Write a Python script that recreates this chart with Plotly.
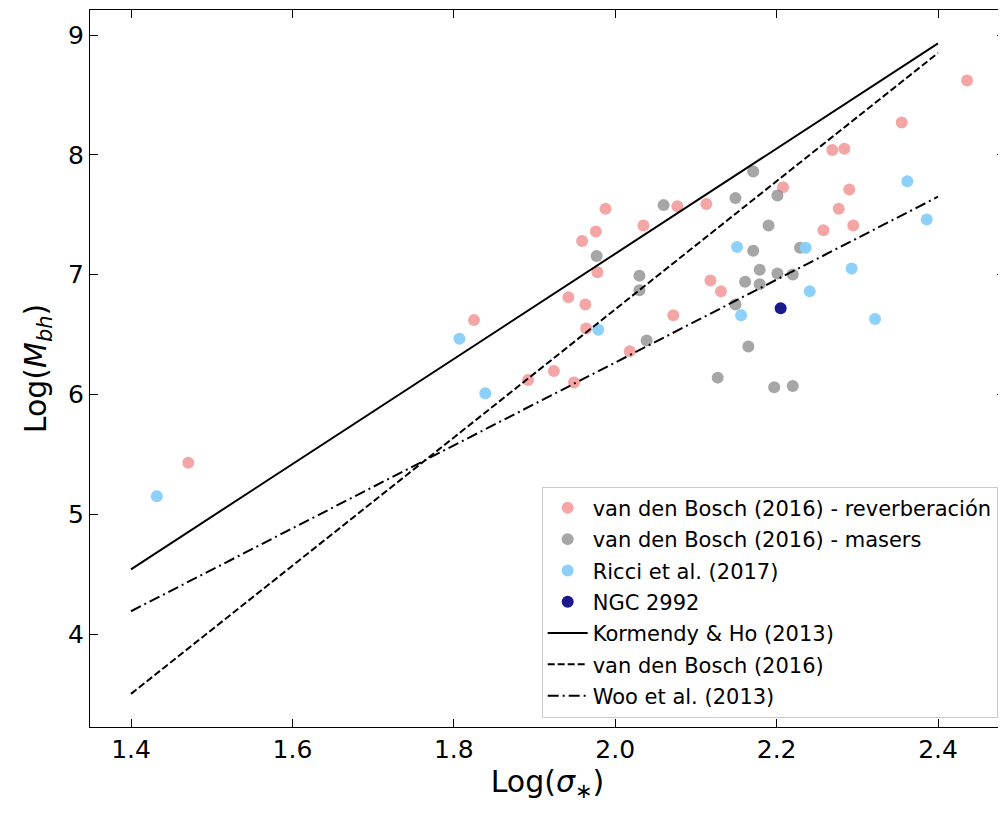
import plotly.graph_objects as go

# Reverberation (van den Bosch 2016)
rev_x = [1.471, 1.825, 1.892, 1.924, 1.949, 1.942, 1.963, 1.964, 1.959, 1.976,
         1.978, 1.988, 2.018, 2.035, 2.072, 2.077, 2.113, 2.118, 2.131, 2.208,
         2.258, 2.269, 2.277, 2.284, 2.290, 2.295, 2.355, 2.436]
rev_y = [5.43, 6.62, 6.12, 6.195, 6.10, 6.81, 6.75, 6.55, 7.28, 7.36,
         7.02, 7.55, 6.36, 7.41, 6.66, 7.57, 7.59, 6.95, 6.86, 7.73,
         7.37, 8.04, 7.55, 8.05, 7.71, 7.41, 8.27, 8.62]

# Masers (van den Bosch 2016)
mas_x = [1.977, 2.030, 2.030, 2.039, 2.060, 2.127, 2.149, 2.149, 2.161, 2.165,
         2.171, 2.171, 2.179, 2.179, 2.190, 2.197, 2.201, 2.201, 2.220, 2.220, 2.229]
mas_y = [7.155, 6.99, 6.87, 6.45, 7.58, 6.14, 7.64, 6.75, 6.94, 6.40,
         7.86, 7.20, 7.04, 6.92, 7.41, 6.06, 7.66, 7.01, 7.00, 6.07, 7.225]

# Ricci et al. (2017)
ric_x = [1.432, 1.807, 1.839, 1.979, 2.151, 2.156, 2.236, 2.241, 2.293, 2.322, 2.362, 2.386]
ric_y = [5.15, 6.465, 6.01, 6.54, 7.23, 6.66, 7.225, 6.86, 7.05, 6.63, 7.78, 7.46]

# NGC 2992
ngc_x = [2.205]
ngc_y = [6.72]

# Relations (endpoints)
rel_x = [1.4, 2.4]
kh_y = [4.54, 8.93]
vdb_y = [3.50, 8.85]
woo_y = [4.19, 7.65]

FONT = "DejaVu Sans"
fig = go.Figure()

def pts(x, y, name, color, op):
    fig.add_trace(go.Scatter(x=x, y=y, mode="markers", name=name, legendgroup=name,
                             marker=dict(size=12, color=color, opacity=op, line=dict(width=0))))

pts(rev_x, rev_y, "van den Bosch (2016) - reverberación", "#F08080", 0.7)
pts(mas_x, mas_y, "van den Bosch (2016) - masers", "#808080", 0.7)
pts(ric_x, ric_y, "Ricci et al. (2017)", "#87CEFA", 0.95)
pts(ngc_x, ngc_y, "NGC 2992", "#000080", 0.9)

def ln(y, name, dash):
    fig.add_trace(go.Scatter(x=rel_x, y=y, mode="lines", name=name, legendgroup=name,
                             line=dict(color="black", width=2, dash=dash)))

ln(kh_y, "Kormendy & Ho (2013)", "solid")
ln(vdb_y, "van den Bosch (2016)", "7px,3px")
ln(woo_y, "Woo et al. (2013)", "11px,4px,2px,4px")

axis_common = dict(showgrid=False, zeroline=False, showline=True, linecolor="black",
                   linewidth=1.2, mirror="ticks", ticks="inside", ticklen=8,
                   tickwidth=1.2, tickcolor="black",
                   tickfont=dict(family=FONT, size=25, color="black"))

fig.update_xaxes(range=[1.3492, 2.483], tickvals=[1.4, 1.6, 1.8, 2.0, 2.2, 2.4],
                 ticktext=["1.4", "1.6", "1.8", "2.0", "2.2", "2.4"],
                 title=dict(text="Log(<i>σ</i><sub>∗</sub>)", font=dict(family=FONT, size=30, color="black"),
                            standoff=0),
                 **axis_common)
fig.update_yaxes(range=[3.2237, 9.2087], tickvals=[4, 5, 6, 7, 8, 9],
                 title=dict(text="Log(<i>M</i><sub><i>bh</i></sub>)", font=dict(family=FONT, size=30, color="black"),
                            standoff=12),
                 **axis_common)

fig.update_layout(
    width=998, height=810,
    margin=dict(l=82, r=1, t=2, b=91),
    plot_bgcolor="white", paper_bgcolor="white",
    font=dict(family=FONT, color="black"),
    legend=dict(x=0.992, y=0.013, xanchor="right", yanchor="bottom",
                bgcolor="rgba(255,255,255,0.8)", bordercolor="#cccccc", borderwidth=1,
                font=dict(family=FONT, size=21, color="black"),
                tracegroupgap=1, itemwidth=40),
)

fig.write_html("out.html")
